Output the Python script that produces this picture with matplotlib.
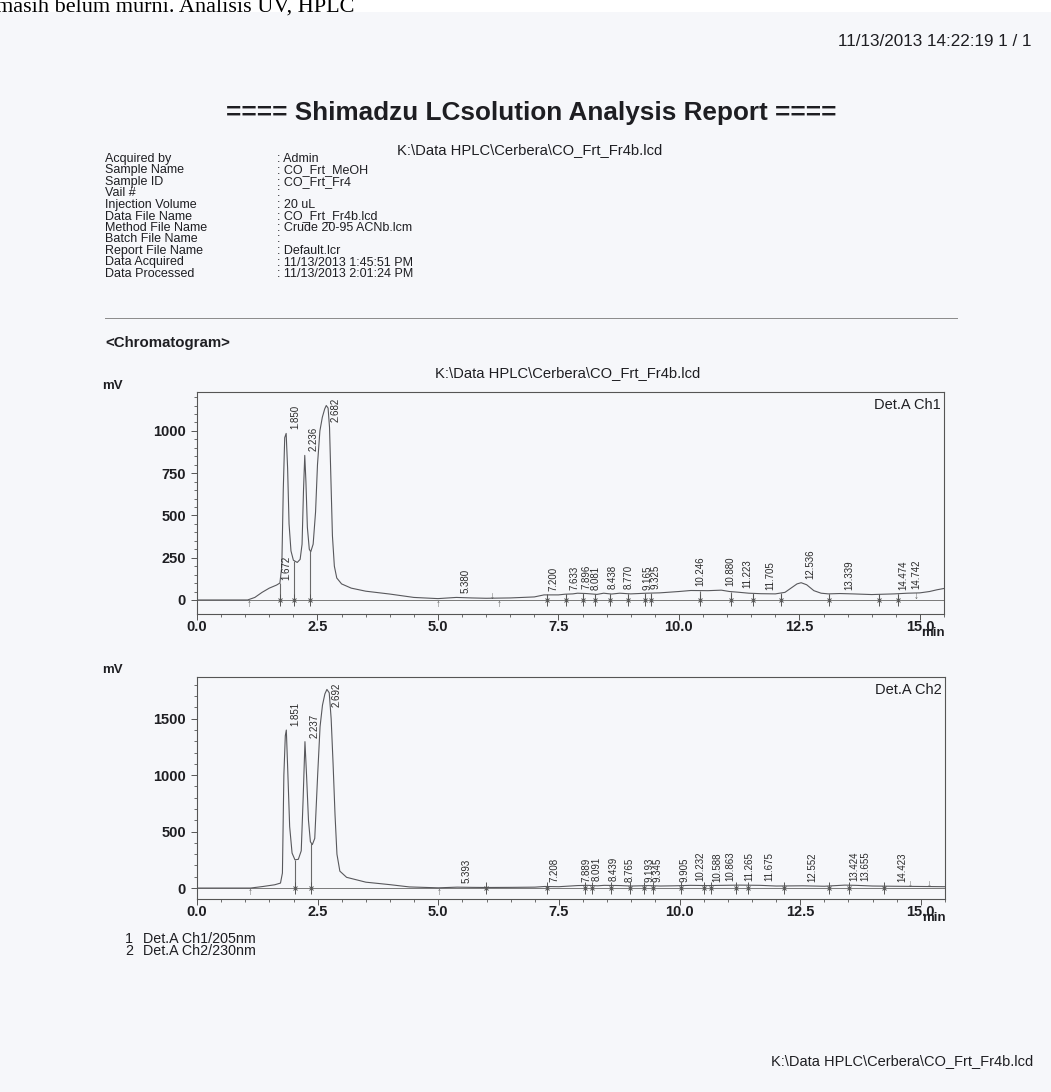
import numpy as np
import matplotlib
matplotlib.use('Agg')
import matplotlib.pyplot as plt
from matplotlib.patches import Rectangle
from matplotlib.lines import Line2D

plt.rcParams['font.family'] = ['Liberation Sans', 'DejaVu Sans']

# ---- header info ----
info_keys = ['Acquired by', 'Sample Name', 'Sample ID', 'Vail #', 'Injection Volume',
             'Data File Name', 'Method File Name', 'Batch File Name', 'Report File Name',
             'Data Acquired', 'Data Processed']
info_vals = [': Admin', ': CO_Frt_MeOH', ': CO_Frt_Fr4', ':', ': 20 uL', ': CO_Frt_Fr4b.lcd',
             ': Crude 20-95 ACNb.lcm', ':', ': Default.lcr', ': 11/13/2013 1:45:51 PM',
             ': 11/13/2013 2:01:24 PM']
data_path = 'K:\\Data HPLC\\Cerbera\\CO_Frt_Fr4b.lcd'

# ---- Det.A Ch1 (205 nm) ----
ch1_time = [0.0, 0.5, 1.05, 1.2, 1.35, 1.5, 1.65, 1.72, 1.76, 1.79, 1.82, 1.85, 1.88, 1.91,
            1.95, 2.0, 2.08, 2.14, 2.18, 2.21, 2.236, 2.26, 2.29, 2.33, 2.36, 2.41, 2.46, 2.5,
            2.55, 2.6, 2.65, 2.682, 2.72, 2.75, 2.78, 2.81, 2.85, 2.9, 3.0, 3.2, 3.5, 4.0, 4.5,
            5.0, 5.38, 5.7, 6.0, 6.5, 7.0, 7.2, 7.5, 7.633, 7.8, 7.896, 8.081, 8.3, 8.438, 8.6,
            8.77, 9.0, 9.165, 9.325, 9.6, 10.0, 10.246, 10.6, 10.88, 11.05, 11.223, 11.45,
            11.705, 12.0, 12.2, 12.35, 12.45, 12.536, 12.65, 12.8, 12.95, 13.1, 13.339, 13.6,
            14.0, 14.474, 14.742, 15.0, 15.2, 15.35, 15.5]
ch1_mv = [0, 0, 0, 15, 45, 70, 88, 100, 200, 650, 960, 985, 780, 450,
          290, 235, 222, 240, 330, 650, 855, 700, 430, 300, 285, 330, 520, 800,
          1000, 1080, 1130, 1150, 1135, 1020, 700, 380, 200, 130, 95, 70, 52, 35, 15,
          8, 15, 12, 10, 12, 18, 30, 30, 34, 36, 40, 38, 33, 40, 35,
          40, 36, 38, 40, 42, 50, 56, 55, 58, 50, 46, 40,
          37, 36, 45, 75, 95, 102, 90, 55, 40, 36, 38, 36,
          32, 36, 40, 42, 50, 60, 68]
ch1_peaks = [1.672, 1.850, 2.236, 2.682, 5.380, 7.200, 7.633, 7.896, 8.081, 8.438, 8.770,
             9.165, 9.325, 10.246, 10.880, 11.223, 11.705, 12.536, 13.339, 14.474, 14.742]
ch1_cross = [1.72, 2.02, 2.35, 7.27, 7.66, 8.00, 8.25, 8.57, 8.95, 9.29, 9.43, 10.44,
             11.07, 11.53, 12.11, 13.11, 14.15, 14.55]
ch1_up = [1.08, 5.0, 6.27]
ch1_down = [6.12, 14.93]

# ---- Det.A Ch2 (230 nm) ----
ch2_time = [0.0, 0.5, 1.11, 1.37, 1.61, 1.73, 1.77, 1.80, 1.83, 1.851, 1.88, 1.92, 1.97,
            2.03, 2.1, 2.16, 2.2, 2.237, 2.27, 2.31, 2.35, 2.39, 2.44, 2.5, 2.55, 2.6, 2.65,
            2.692, 2.74, 2.78, 2.82, 2.86, 2.9, 2.96, 3.1, 3.5, 4.0, 4.4, 5.0, 5.393, 5.7,
            6.0, 6.5, 7.0, 7.208, 7.5, 7.889, 8.091, 8.3, 8.439, 8.765, 9.0, 9.193, 9.345,
            9.6, 9.905, 10.232, 10.588, 10.863, 11.265, 11.675, 12.0, 12.552, 13.0, 13.424,
            13.655, 14.0, 14.423, 15.0, 15.5]
ch2_mv = [0, 0, 0, 14, 29, 44, 133, 1000, 1350, 1400, 1050, 545, 310,
          250, 255, 330, 800, 1297, 1000, 600, 410, 385, 440, 1000, 1430, 1620, 1720,
          1760, 1730, 1500, 1100, 650, 300, 150, 95, 52, 30, 10, 2, 8, 6,
          5, 6, 8, 14, 12, 22, 24, 20, 24, 22, 18, 20, 22,
          18, 20, 24, 22, 24, 26, 24, 18, 20, 16, 26,
          24, 18, 16, 14, 12]
ch2_peaks = [1.851, 2.237, 2.692, 5.393, 7.208, 7.889, 8.091, 8.439, 8.765, 9.193, 9.345,
             9.905, 10.232, 10.588, 10.863, 11.265, 11.675, 12.552, 13.424, 13.655, 14.423]
ch2_cross = [2.03, 2.37, 5.99, 7.25, 8.03, 8.18, 8.58, 8.97, 9.27, 9.45, 10.02, 10.50,
             10.65, 11.16, 11.42, 12.16, 13.10, 13.52, 14.24]
ch2_up = [1.11, 5.02]
ch2_down = [14.77, 15.17]

ch1_yticks = [0, 250, 500, 750, 1000]
ch2_yticks = [0, 500, 1000, 1500]
x_ticks = [0.0, 2.5, 5.0, 7.5, 10.0, 12.5, 15.0]

W, H = 1051, 1092
fig = plt.figure(figsize=(W / 100, H / 100), dpi=100)
fig.patch.set_facecolor('white')


def fx(px):
    return px / W


def fy(py):
    return 1 - py / H


# scanned paper
fig.patches.append(Rectangle((0, 0), 1, fy(12), transform=fig.transFigure,
                             facecolor='#f6f7fa', edgecolor='none', zorder=-5))
fig.text(fx(-4), fy(12), 'masih belum murni. Analisis UV, HPLC', fontsize=16,
         family=['Liberation Serif', 'DejaVu Serif'], va='baseline', color='black')

ink = '#1e1e22'
fig.text(fx(1031), fy(42), '11/13/2013 14:22:19 1 / 1', ha='right', va='center',
         fontsize=12.3, color=ink)
fig.text(fx(531), fy(113), '==== Shimadzu LCsolution Analysis Report ====', ha='center',
         va='center', fontsize=18.8, fontweight='bold', color=ink)
fig.text(fx(530), fy(150), data_path, ha='center', va='center', fontsize=10.6, color=ink)
for i, (k, v) in enumerate(zip(info_keys, info_vals)):
    yy = fy(159 + i * 11.5)
    fig.text(fx(105), yy, k, ha='left', va='center', fontsize=9, color=ink)
    fig.text(fx(277), yy, v, ha='left', va='center', fontsize=9, color=ink)
fig.lines.append(Line2D([fx(105), fx(957)], [fy(318), fy(318)], transform=fig.transFigure,
                        color='#8a8a8a', lw=0.7))
fig.text(fx(105), fy(343), '<Chromatogram>', ha='left', va='center', fontsize=10.8,
         fontweight='bold', color=ink)
fig.text(fx(568), fy(373), data_path, ha='center', va='center', fontsize=10.6, color=ink)


def draw_chrom(rect, t, mv, peaks, cross, up, down, ylim, yticks, yminor, name):
    ax = fig.add_axes(rect)
    ax.set_facecolor('none')
    t = np.array(t, dtype=float)
    mv = np.array(mv, dtype=float)
    ax.set_xlim(0, 15.5)
    ax.set_ylim(*ylim)
    ax.axhline(0, color='#7a7a7a', lw=0.7, zorder=1)
    ax.plot(t, mv, color='#58585c', lw=0.8, zorder=2)
    cy = np.interp(cross, t, mv)
    ax.vlines(cross, 0, cy, color='#6a6a6a', lw=0.8, zorder=2)
    ax.plot(cross, np.zeros(len(cross)), ls='none', marker='x', ms=3.5, mew=0.7,
            color='#555555', zorder=3)
    ax.plot(cross, np.zeros(len(cross)), ls='none', marker='|', ms=8, mew=0.7,
            color='#555555', zorder=3)
    for x in up:
        ax.annotate('\u2191', xy=(x, 0), xytext=(0, 1), textcoords='offset points',
                    ha='center', va='top', fontsize=7, color='#555555')
    for x in down:
        ax.annotate('\u2193', xy=(x, 0), xytext=(0, -1), textcoords='offset points',
                    ha='center', va='bottom', fontsize=7, color='#555555')

    ax_h_px = rect[3] * H
    mv_per_px = (ylim[1] - ylim[0]) / ax_h_px
    lab_len = 27 * mv_per_px
    for rt in peaks:
        y = np.interp(rt, t, mv) + 4 * mv_per_px
        y = min(y, ylim[1] - 3 * mv_per_px - lab_len)
        ax.annotate('%.3f' % rt, xy=(rt, y), xytext=(3, 0), textcoords='offset points',
                    rotation=90, ha='left', va='bottom', fontsize=7, color='#2a2a2a')

    ax.set_xticks(x_ticks, ['%.1f' % v for v in x_ticks], fontweight='bold', fontsize=10.5,
                  color=ink)
    ax.set_xticks(np.arange(0, 15.51, 0.5), minor=True)
    ax.set_yticks(yticks, [str(v) for v in yticks], fontweight='bold', fontsize=10.5,
                  color=ink)
    ax.set_yticks(np.arange(0, ylim[1], yminor), minor=True)
    ax.tick_params(which='major', direction='out', length=4, width=0.7, color='#555555')
    ax.tick_params(axis='x', which='major', pad=0.5)
    ax.tick_params(axis='y', which='major', pad=4)
    ax.tick_params(which='minor', direction='out', length=2.5, width=0.6, color='#555555')
    for s in ax.spines.values():
        s.set_color('#555555')
        s.set_linewidth(0.8)
    ax.text(0.996, 0.975, name, transform=ax.transAxes, ha='right', va='top',
            fontsize=10.5, color=ink)
    return ax


top_rect = [fx(197), fy(614), fx(944) - fx(197), fy(392) - fy(614)]
bot_rect = [fx(197), fy(899), fx(945) - fx(197), fy(677) - fy(899)]
draw_chrom(top_rect, ch1_time, ch1_mv, ch1_peaks, ch1_cross, ch1_up, ch1_down,
           (-83, 1230), ch1_yticks, 50, 'Det.A Ch1')
draw_chrom(bot_rect, ch2_time, ch2_mv, ch2_peaks, ch2_cross, ch2_up, ch2_down,
           (-97, 1870), ch2_yticks, 100, 'Det.A Ch2')

for yy in (386, 670):
    fig.text(fx(102), fy(yy), 'mV', ha='left', va='center', fontsize=9.5,
             fontweight='bold', color=ink)
fig.text(fx(945), fy(633), 'min', ha='right', va='center', fontsize=9.5,
         fontweight='bold', color=ink)
fig.text(fx(946), fy(918), 'min', ha='right', va='center', fontsize=9.5,
         fontweight='bold', color=ink)

fig.text(fx(125), fy(939), '1', ha='left', va='center', fontsize=10.3, color=ink)
fig.text(fx(143), fy(939), 'Det.A Ch1/205nm', ha='left', va='center', fontsize=10.3, color=ink)
fig.text(fx(125), fy(951), '2', ha='left', va='center', fontsize=10.3, color=ink)
fig.text(fx(143), fy(951), 'Det.A Ch2/230nm', ha='left', va='center', fontsize=10.3, color=ink)

fig.text(fx(1033), fy(1061), data_path, ha='right', va='center', fontsize=10.5, color=ink)

fig.savefig('out.png', dpi=100)
